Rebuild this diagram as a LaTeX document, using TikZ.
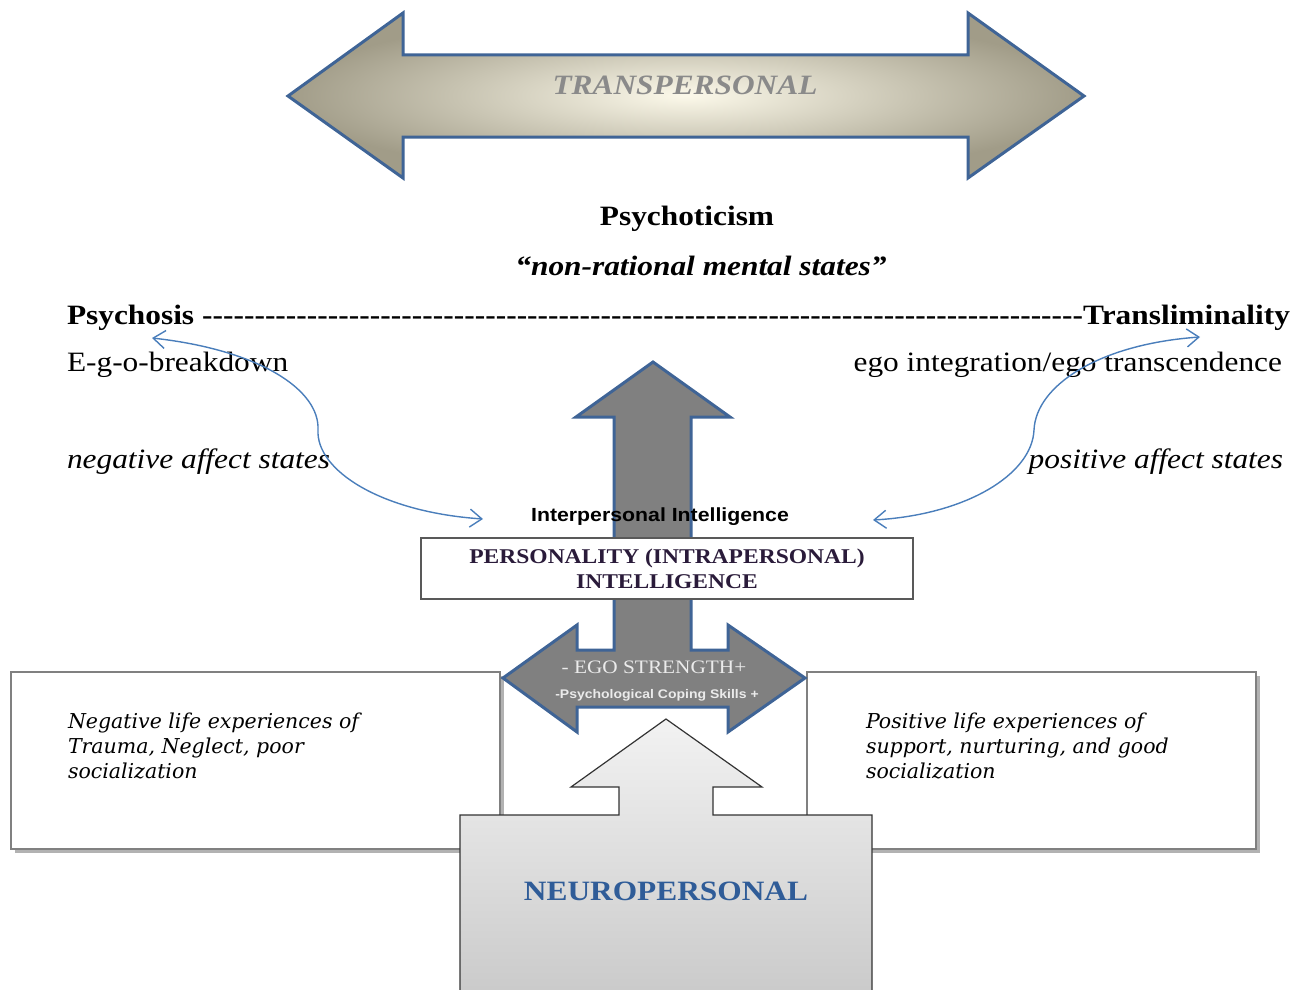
\documentclass[tikz,border=0pt]{standalone}
\usepackage{fontspec}
\setmainfont{Liberation Serif}[FakeStretch=1.12]
\setsansfont{Liberation Sans}[FakeStretch=1.12]
\newfontfamily\bookfont{DejaVu Serif}
\usetikzlibrary{arrows.meta,shadows}
\definecolor{arrowblue}{HTML}{3F6496}
\definecolor{curveblue}{HTML}{4A7EBB}
\definecolor{khaki}{HTML}{A19C88}
\definecolor{cream}{HTML}{FCF9EA}
\definecolor{egogray}{HTML}{808080}
\definecolor{purpletxt}{HTML}{2A1B3A}
\definecolor{neuroblue}{HTML}{2F5C98}
\definecolor{boxgray}{HTML}{808080}
\definecolor{transgray}{HTML}{8A8A8A}
\begin{document}
\begin{tikzpicture}[x=1pt,y=-1pt,
  txt/.style={inner sep=0pt, outer sep=0pt},
  maintxt/.style={txt, font=\fontsize{28}{32}\selectfont},
  bigarrow/.style={draw=arrowblue, line width=3pt, line join=miter},
  curve/.style={draw=curveblue, line width=1.4pt,
     {Straight Barb[length=12pt,width=18pt,line width=1.4pt]}-{Straight Barb[length=12pt,width=18pt,line width=1.4pt]}},
  lifebox/.style={draw=boxgray, line width=1.6pt, fill=white, inner sep=0pt,
     drop shadow={opacity=0.5, shadow xshift=4pt, shadow yshift=-4pt, fill=black!60}},
  boxtxt/.style={txt, align=left, font=\bookfont\itshape\fontsize{20.5}{25}\selectfont}
]
\useasboundingbox (0,0) rectangle (1304,990);

% ---- transpersonal double arrow
\path[shading=radial, inner color=cream, outer color=khaki]
  (288,96) -- (403,13) -- (403,55) -- (968,55) -- (968,13) -- (1084,96)
  -- (968,178) -- (968,137) -- (403,137) -- (403,178) -- cycle;
\path[bigarrow]
  (288,96) -- (403,13) -- (403,55) -- (968,55) -- (968,13) -- (1084,96)
  -- (968,178) -- (968,137) -- (403,137) -- (403,178) -- cycle;
\node[txt, font=\bfseries\itshape\fontsize{28}{32}\selectfont, text=transgray, anchor=base] (trans) at (685,95) {TRANSPERSONAL};

% ---- headings
\node[maintxt, font=\bfseries\fontsize{28}{32}\selectfont, anchor=base] (psychoticism) at (687,225) {Psychoticism};
\node[maintxt, font=\bfseries\itshape\fontsize{28}{32}\selectfont, anchor=base] (nonrational) at (701,275) {“non-rational mental states”};
\node[maintxt, font=\bfseries\fontsize{28}{32}\selectfont, anchor=base west] (axis) at (67,324)
  {\hbox to 1223pt{Psychosis \xleaders\hbox{-}\hfill Transliminality}};
\node[maintxt, anchor=base west] (egob) at (67,371) {E-g-o-breakdown};
\node[maintxt, anchor=base east] (egoi) at (1282,371) {ego integration/ego transcendence};
\node[maintxt, font=\itshape\fontsize{28}{32}\selectfont, anchor=base west] (neg) at (67,468) {negative affect states};
\node[maintxt, font=\itshape\fontsize{28}{32}\selectfont, anchor=base east] (pos) at (1283,468) {positive affect states};

% ---- life experience boxes
\node[lifebox, minimum width=489pt, minimum height=177pt, anchor=north west] (negbox) at (10,671) {};
\node[lifebox, minimum width=449pt, minimum height=177pt, anchor=north west] (posbox) at (806,671) {};
\node[boxtxt, anchor=north west] (negtxt) at (68,713) {Negative life experiences of\\Trauma, Neglect, poor\\socialization};
\node[boxtxt, anchor=north west] (postxt) at (866,713) {Positive life experiences of\\support, nurturing, and good\\socialization};

% ---- ego strength arrow (up arrow joined with left-right arrow)
\path[bigarrow, fill=egogray]
  (653,362) -- (730,417) -- (691,417) -- (691,650) -- (728,650) -- (728,625)
  -- (805,678) -- (728,732) -- (728,707) -- (577,707) -- (577,732)
  -- (503,678) -- (577,625) -- (577,650) -- (614,650) -- (614,417)
  -- (576,417) -- cycle;
\node[txt, font=\fontsize{19}{22}\selectfont, text=white!92!black, anchor=base] (egostr) at (654,673) {- EGO STRENGTH+};
\node[txt, font=\sffamily\bfseries\fontsize{12.5}{15}\selectfont, text=white!92!black, anchor=base] (coping) at (657,698) {-Psychological Coping Skills +};

% ---- personality box
\node[draw=black!65, line width=1.2pt, fill=white, minimum width=492pt, minimum height=61pt,
      inner sep=0pt, align=center, text=purpletxt,
      font=\bfseries\fontsize{21}{25}\selectfont] (perso) at (667,568.5)
  {PERSONALITY (INTRAPERSONAL)\\INTELLIGENCE};
\node[txt, font=\sffamily\bfseries\fontsize{19}{22}\selectfont, anchor=base] (inter) at (660,521) {Interpersonal Intelligence};

% ---- neuropersonal arrow-box
\begin{scope}
\clip (0,0) rectangle (1304,990);
\path[top color=gray!10, bottom color=gray!42]
  (666,719) -- (762,787) -- (713,787) -- (713,815) -- (872,815) -- (872,1000)
  -- (460,1000) -- (460,815) -- (619,815) -- (619,787) -- (571,787) -- cycle;
\path[draw=black!80, line width=1.2pt]
  (666,719) -- (762,787) -- (713,787) -- (713,815) -- (872,815) -- (872,1000)
  -- (460,1000) -- (460,815) -- (619,815) -- (619,787) -- (571,787) -- cycle;
\end{scope}
\node[txt, font=\bfseries\fontsize{28}{30}\selectfont, text=neuroblue, anchor=base] (neuro) at (666,900) {NEUROPERSONAL};

% ---- curved double arrows
\coordinate (lA) at (152,338);
\coordinate (lB) at (483,519);
\coordinate (rA) at (1200,337);
\coordinate (rB) at (873,520);
\draw[curve] (lA) .. controls (260,350) and (320,390) .. (318,430)
             .. controls (316,470) and (380,512) .. (lB);
\draw[curve] (rA) .. controls (1100,344) and (1036,385) .. (1034,430)
             .. controls (1032,475) and (965,515) .. (rB);
\end{tikzpicture}
\end{document}
